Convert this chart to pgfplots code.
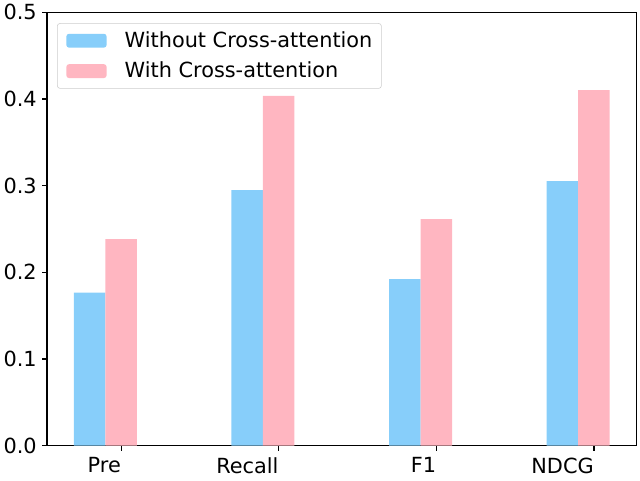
\documentclass[border=0pt]{standalone}
\usepackage{pgfplots}
\pgfplotsset{compat=1.18}
\usepackage{fontspec}
\setmainfont{DejaVu Sans}
\definecolor{skyb}{HTML}{87CEFA}
\definecolor{lpink}{HTML}{FFB6C1}
\begin{document}
\begin{tikzpicture}
\begin{axis}[
  scale only axis,
  width=424.4pt, height=312pt,
  xmin=-0.27, xmax=3.47,
  ymin=0, ymax=0.5,
  xtick={0.2,1.2,2.2,3.2},
  xticklabels={Pre,Recall,F1,NDCG},
  ytick={0,0.1,0.2,0.3,0.4,0.5},
  /pgf/number format/fixed,
  /pgf/number format/fixed zerofill,
  /pgf/number format/precision=1,
  /pgf/number format/assume math mode=true,
  xtick pos=bottom, ytick pos=left,
  tick align=outside,
  major tick length=3.5pt,
  axis line style={line width=0.8pt},
  every tick/.style={black, line width=0.8pt},
  tick label style={font=\fontsize{15}{18}\selectfont},
  xticklabel style={anchor=north east, inner sep=0pt, yshift=-5pt},
  yticklabel style={anchor=east, inner sep=0pt, xshift=-3.7pt},
  legend style={at={(0.017,0.975)}, anchor=north west, draw=black!20, rounded corners=2pt,
    fill=white, font=\fontsize{15}{18}\selectfont, inner xsep=6.5pt, inner ysep=6pt,
    row sep=9pt, nodes={inner sep=0pt},
    /tikz/every odd column/.append style={column sep=13pt}},
  legend cell align=left,
  legend image code/.code={\fill[#1] (0pt,-5pt) rectangle (29pt,5pt);},
]
\addplot[ybar, bar width=0.2, bar shift=0pt, fill=skyb, draw=none] coordinates {(0,0.1765) (1,0.2949) (2,0.1923) (3,0.3053)};
\addplot[ybar, bar width=0.2, bar shift=0pt, fill=lpink, draw=none] coordinates {(0.2,0.2384) (1.2,0.4037) (2.2,0.2615) (3.2,0.4103)};
\legend{Without Cross-attention, With Cross-attention}
\end{axis}
\pgfresetboundingbox
\path ([shift={(-33.84pt,-24.7pt)}]current axis.south west) rectangle ([shift={(2.5pt,8.86pt)}]current axis.north east);
\end{tikzpicture}
\end{document}
